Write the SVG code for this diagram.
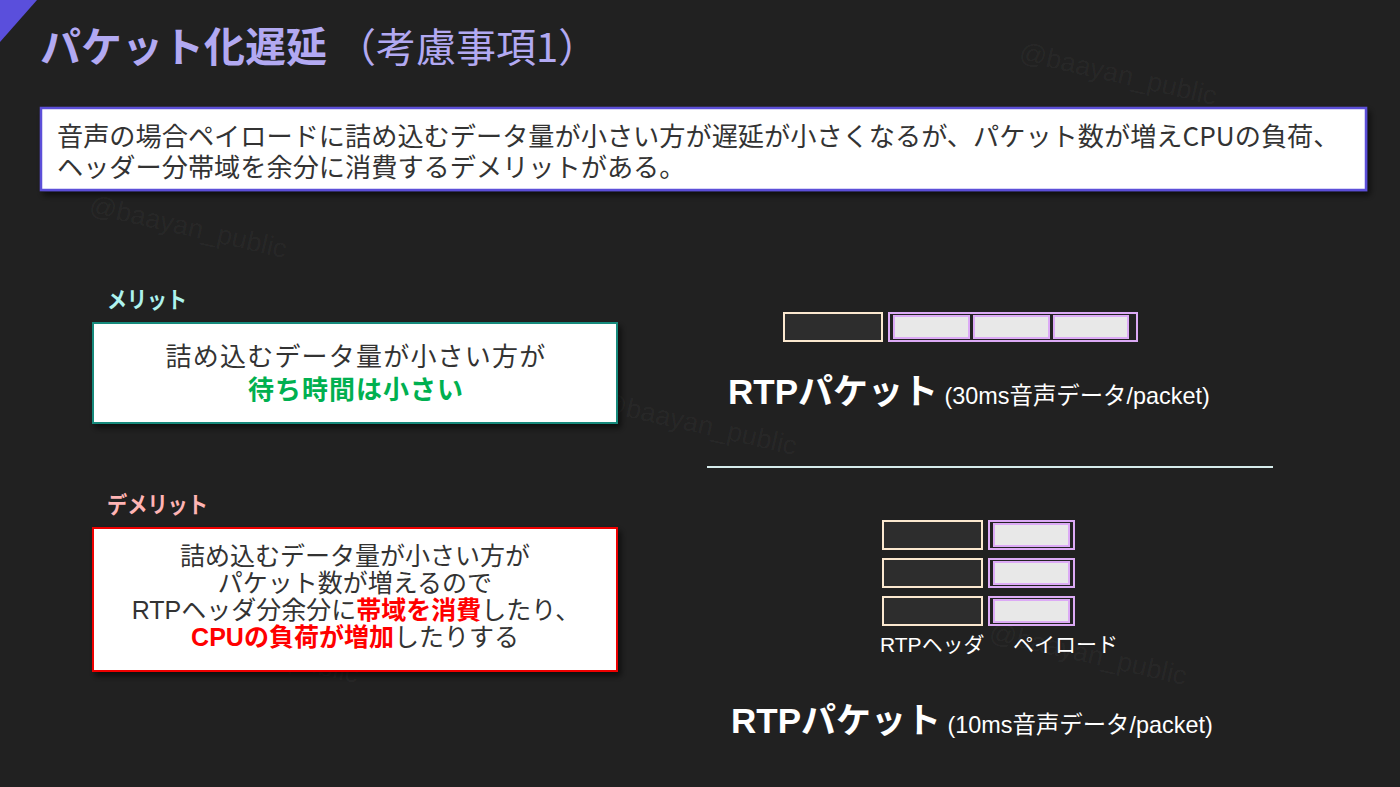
<svg xmlns="http://www.w3.org/2000/svg" width="1400" height="787" viewBox="0 0 1400 787">
<defs>
<style>
.jp{font-family:"Noto Sans CJK JP","Liberation Sans",sans-serif;}
.la{font-family:"Liberation Sans","Noto Sans CJK JP",sans-serif;}
.wm{font-family:"Liberation Sans",sans-serif;font-size:27px;fill:#ffffff;fill-opacity:0.045;}
.hdr{fill:#2d2d2d;stroke:#fbe8cf;stroke-width:2;}
.pay{fill:#232323;stroke:#dcaaf6;stroke-width:2;}
.pin{fill:#e8e8e8;stroke:#dcaaf6;stroke-width:2;}
.body{fill:#333333;}
</style>
<filter id="sh" x="-5%" y="-10%" width="115%" height="130%">
<feDropShadow dx="3" dy="4" stdDeviation="3" flood-color="#000000" flood-opacity="0.6"/>
</filter>
</defs>
<rect width="1400" height="787" fill="#212121"/>
<g id="watermarks">
<text class="wm" x="1018" y="60" transform="rotate(13 1018 60)">@baayan_public</text>
<text class="wm" x="88" y="213" transform="rotate(13 88 213)">@baayan_public</text>
<text class="wm" x="598" y="410" transform="rotate(13 598 410)">@baayan_public</text>
<text class="wm" x="988" y="640" transform="rotate(13 988 640)">@baayan_public</text>
<text class="wm" x="160" y="638" transform="rotate(13 160 638)">@baayan_public</text>
</g>
<polygon id="corner" points="0,0 37,0 0,42" fill="#5a4fdc"/>
<g id="title">
<text class="jp" x="40" y="62" font-size="41" fill="#b2a9f2"><tspan font-weight="bold">パケット化遅延</tspan><tspan x="336" font-size="40">（考慮事項1）</tspan></text>
</g>
<g id="summary">
<rect x="41" y="108" width="1325" height="82" fill="#ffffff" stroke="#5b4fd8" stroke-width="2.5" filter="url(#sh)"/>
<text class="jp body" x="57" y="146" font-size="26.2" fill="#222222">音声の場合ペイロードに詰め込むデータ量が小さい方が遅延が小さくなるが、パケット数が増えCPUの負荷、</text>
<text class="jp body" x="57" y="177" font-size="26.2" fill="#222222">ヘッダー分帯域を余分に消費するデメリットがある。</text>
</g>
<g id="merit-label">
<text class="jp" x="107" y="308" font-size="23" font-weight="bold" fill="#aef3ee" textLength="80" lengthAdjust="spacingAndGlyphs">メリット</text>
</g>
<g id="merit-box">
<rect x="93" y="323" width="524" height="100" fill="#ffffff" stroke="#148a7b" stroke-width="2" filter="url(#sh)"/>
<text class="jp body" x="356" y="366" font-size="26" text-anchor="middle" letter-spacing="1.2">詰め込むデータ量が小さい方が</text>
<text class="jp" x="356" y="399" font-size="26" font-weight="bold" fill="#00b050" text-anchor="middle" letter-spacing="1">待ち時間は小さい</text>
</g>
<g id="demerit-label">
<text class="jp" x="107" y="513" font-size="23" font-weight="bold" fill="#ffb4b4" textLength="101" lengthAdjust="spacingAndGlyphs">デメリット</text>
</g>
<g id="demerit-box">
<rect x="93" y="528" width="524" height="143" fill="#ffffff" stroke="#ee0000" stroke-width="2" filter="url(#sh)"/>
<text class="jp body" x="355" y="565" font-size="25" text-anchor="middle">詰め込むデータ量が小さい方が</text>
<text class="jp body" x="355" y="592" font-size="25" text-anchor="middle">パケット数が増えるので</text>
<text class="jp body" x="356" y="619" font-size="25" text-anchor="middle"><tspan class="la">RTP</tspan>ヘッダ分余分に<tspan font-weight="bold" fill="#ff0000">帯域を消費</tspan>したり、</text>
<text class="jp body" x="355" y="646" font-size="25" text-anchor="middle"><tspan font-weight="bold" fill="#ff0000"><tspan class="la">CPU</tspan>の負荷が増加</tspan>したりする</text>
</g>
<g id="packet-30ms">
<rect class="hdr" x="784" y="313" width="98" height="28"/>
<rect class="pay" x="889" y="313" width="248" height="28"/>
<rect class="pin" x="894" y="316" width="75" height="22"/>
<rect class="pin" x="974" y="316" width="75" height="22"/>
<rect class="pin" x="1054" y="316" width="74" height="22"/>
<text x="728" y="404" fill="#ffffff"><tspan class="la" font-size="35" font-weight="bold">RTP</tspan><tspan class="jp" font-size="35" font-weight="bold">パケット</tspan><tspan class="la" font-size="23.4"> (30ms</tspan><tspan class="jp" font-size="23.4">音声データ</tspan><tspan class="la" font-size="23.4">/packet)</tspan></text>
</g>
<g id="divider">
<line x1="707" y1="467" x2="1273" y2="467" stroke="#d6ecec" stroke-width="2"/>
</g>
<g id="packet-10ms">
<rect class="hdr" x="883" y="521" width="99" height="28"/>
<rect class="pay" x="989" y="521" width="85" height="28"/>
<rect class="pin" x="994" y="524" width="75" height="22"/>
<rect class="hdr" x="883" y="559" width="99" height="28"/>
<rect class="pay" x="989" y="559" width="85" height="28"/>
<rect class="pin" x="994" y="562" width="75" height="22"/>
<rect class="hdr" x="883" y="597" width="99" height="28"/>
<rect class="pay" x="989" y="597" width="85" height="28"/>
<rect class="pin" x="994" y="600" width="75" height="22"/>
<text x="880" y="652" font-size="21" fill="#ffffff"><tspan class="la">RTP</tspan><tspan class="jp">ヘッダ</tspan></text>
<text class="jp" x="1013" y="652" font-size="21" fill="#ffffff">ペイロード</text>
<text x="731" y="733" fill="#ffffff"><tspan class="la" font-size="35" font-weight="bold">RTP</tspan><tspan class="jp" font-size="35" font-weight="bold">パケット</tspan><tspan class="la" font-size="23.4"> (10ms</tspan><tspan class="jp" font-size="23.4">音声データ</tspan><tspan class="la" font-size="23.4">/packet)</tspan></text>
</g>
</svg>
